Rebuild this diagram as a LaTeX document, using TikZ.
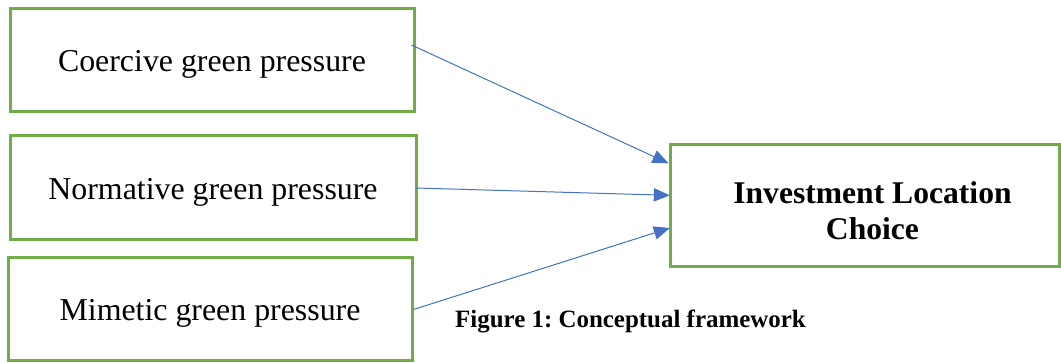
\documentclass[tikz,border=0pt]{standalone}
\usepackage{fontspec}
\setmainfont{Liberation Serif}
\usetikzlibrary{arrows.meta, calc}
\definecolor{fwgreen}{HTML}{70AD47}
\definecolor{fwblue}{HTML}{4472C4}
\frenchspacing

\begin{document}
\begin{tikzpicture}[x=0.75pt, y=-0.75pt,
  factor/.style={rectangle, draw=fwgreen, line width=2.25pt, minimum width=303pt, minimum height=77.25pt, align=center, text height=17.2pt, text depth=0pt, font=\fontsize{23.9}{28}\selectfont},
  outcome/.style={rectangle, draw=fwgreen, line width=2.25pt, minimum width=291.75pt, minimum height=91.5pt},
  outcometext/.style={align=center, xshift=6pt, yshift=-3.5pt, font=\fontsize{23.7}{27}\selectfont\bfseries},
  link/.style={-{Triangle[length=12pt, width=10pt]}, fwblue, line width=0.75pt},
]
\useasboundingbox (0,0) rectangle (1061,363);
\node[factor] (coercive) at (212, 60.5) {Coercive green pressure};
\node[factor, minimum width=304.5pt, minimum height=78pt] (normative) at (213, 188) {Normative green pressure};
\node[factor] (mimetic) at (210, 309.5) {Mimetic green pressure};
\node[outcome, label={[outcometext]center:Investment Location\\Choice}] (choice) at (864.5, 206) {};
\draw[link] ([xshift=-3pt, yshift=11.6pt]coercive.east) -- ([yshift=32pt]choice.west);
\draw[link] ([xshift=-1.5pt]normative.east) -- ([xshift=1pt, yshift=8pt]choice.west);
\draw[link] (mimetic.east) -- ([xshift=1pt, yshift=-16.5pt]choice.west);
\node[font=\fontsize{18.7}{22}\selectfont\bfseries] (caption) at (630.5, 321) {Figure 1: Conceptual framework};
\end{tikzpicture}
\end{document}
